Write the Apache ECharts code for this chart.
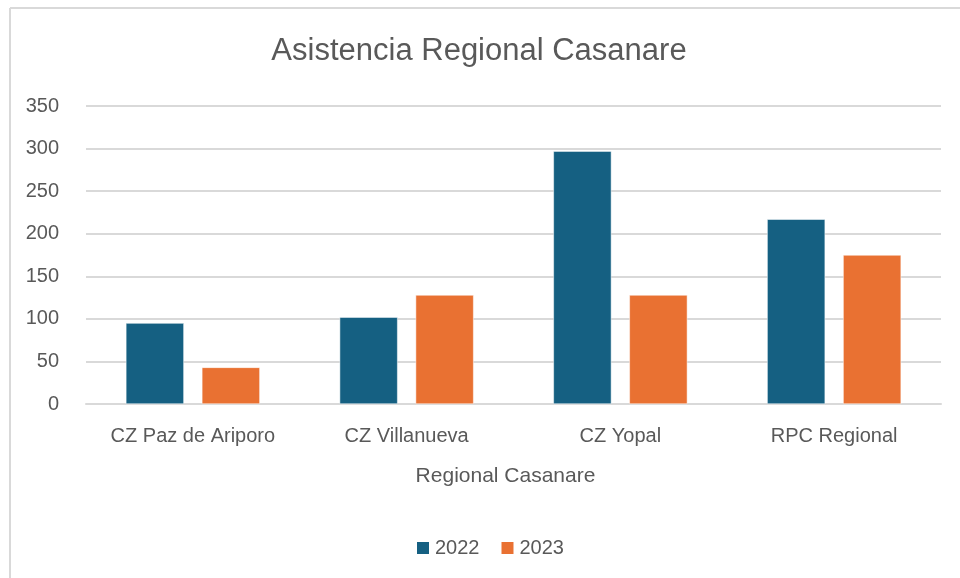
<!DOCTYPE html>
<html>
<head>
<meta charset="utf-8">
<script src="https://cdn.jsdelivr.net/npm/echarts@6/dist/echarts.min.js"></script>
<style>
html,body{margin:0;padding:0;background:#fff;}
#chart{width:960px;height:578px;}
</style>
</head>
<body>
<div id="chart"></div>
<script>
const categories = ['CZ Paz de Ariporo', 'CZ Villanueva', 'CZ Yopal', 'RPC Regional'];
const values2022 = [95, 102, 297, 217];
const values2023 = [43, 128, 128, 175];
const seriesNames = ['2022', '2023'];

const FONT = '"Liberation Sans Narrow", "Arial Narrow", "Liberation Sans", sans-serif';
const chart = echarts.init(document.getElementById('chart'));
chart.setOption({
  backgroundColor: '#ffffff',
  animation: false,
  title: {
    text: 'Asistencia Regional Casanare',
    left: 474, top: 31, textAlign: 'center',
    textStyle: { fontFamily: FONT, fontSize: 31, fontWeight: 'normal', color: '#595959' }
  },
  graphic: [
    { type: 'line', shape: { x1: 10, y1: 8, x2: 960, y2: 8 }, style: { stroke: '#d9d9d9', lineWidth: 2 } },
    { type: 'line', shape: { x1: 10, y1: 8, x2: 10, y2: 578 }, style: { stroke: '#d9d9d9', lineWidth: 2 } }
  ],
  legend: {
    data: seriesNames,
    left: 410, top: 533,
    itemWidth: 14, itemHeight: 14, itemGap: 20,
    icon: 'rect',
    textStyle: { fontFamily: FONT, fontSize: 20, color: '#595959' }
  },
  grid: { left: 86, right: 19, top: 106, bottom: 174 },
  xAxis: {
    type: 'category',
    data: categories,
    name: 'Regional Casanare',
    nameLocation: 'middle',
    nameGap: 62,
    nameTextStyle: { fontFamily: FONT, fontSize: 21, color: '#595959', padding: [0, 16, 0, 0] },
    axisLine: { lineStyle: { color: '#d9d9d9', width: 2 } },
    axisTick: { show: false },
    axisLabel: { interval: 0, fontFamily: FONT, fontSize: 20, color: '#595959', margin: 22 }
  },
  yAxis: {
    type: 'value',
    min: 0, max: 350, interval: 50,
    axisLine: { show: false },
    axisTick: { show: false },
    axisLabel: { fontFamily: FONT, fontSize: 20, color: '#595959', margin: 27 },
    splitLine: { lineStyle: { color: '#d9d9d9', width: 2 } }
  },
  series: [
    { name: seriesNames[0], type: 'bar', data: values2022, barWidth: 58, barGap: '31%',
      itemStyle: { color: '#156082', borderColor: '#ffffff', borderWidth: 0.5 } },
    { name: seriesNames[1], type: 'bar', data: values2023, barWidth: 58,
      itemStyle: { color: '#E97132', borderColor: '#ffffff', borderWidth: 0.5 } }
  ]
});
</script>
</body>
</html>
